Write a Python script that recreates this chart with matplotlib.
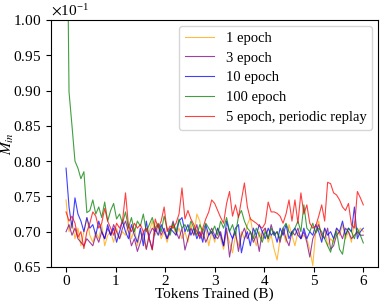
import numpy as np
import matplotlib
matplotlib.use("Agg")
import matplotlib.pyplot as plt
from matplotlib.ticker import ScalarFormatter

plt.rcParams['font.family'] = ['Liberation Serif', 'DejaVu Serif']
plt.rcParams['mathtext.fontset'] = 'stix'

# tokens trained (B), one sample every 0.06B
tokens = np.round(np.arange(101) * 0.06, 2)

# M_in values (axis units x 1e-1)
ep1 = [0.745, 0.700, 0.715, 0.690, 0.705, 0.680, 0.700, 0.720, 0.695, 0.685,
       0.700, 0.690, 0.710, 0.680, 0.695, 0.700, 0.685, 0.705, 0.690, 0.700,
       0.695, 0.710, 0.690, 0.705, 0.680, 0.700, 0.690, 0.675, 0.700, 0.715,
       0.695, 0.705, 0.690, 0.700, 0.685, 0.700, 0.710, 0.695, 0.705, 0.690,
       0.700, 0.685, 0.710, 0.695, 0.725, 0.715, 0.690, 0.705, 0.680, 0.700,
       0.685, 0.705, 0.690, 0.675, 0.700, 0.685, 0.670, 0.695, 0.680, 0.700,
       0.690, 0.710, 0.720, 0.695, 0.680, 0.700, 0.690, 0.705, 0.685, 0.695,
       0.675, 0.660, 0.690, 0.700, 0.685, 0.710, 0.695, 0.680, 0.700, 0.690,
       0.695, 0.690, 0.675, 0.652, 0.700, 0.715, 0.690, 0.705, 0.680, 0.690,
       0.685, 0.705, 0.695, 0.710, 0.690, 0.700, 0.685, 0.715, 0.695, 0.705, 0.700]

ep3 = [0.700, 0.710, 0.695, 0.705, 0.690, 0.685, 0.680, 0.690, 0.685, 0.680,
       0.695, 0.685, 0.700, 0.690, 0.705, 0.695, 0.710, 0.700, 0.690, 0.705,
       0.715, 0.700, 0.680, 0.690, 0.672, 0.685, 0.700, 0.675, 0.695, 0.705,
       0.700, 0.710, 0.695, 0.705, 0.690, 0.700, 0.715, 0.700, 0.690, 0.705,
       0.674, 0.690, 0.705, 0.695, 0.710, 0.690, 0.700, 0.685, 0.695, 0.705,
       0.695, 0.690, 0.700, 0.680, 0.705, 0.664, 0.690, 0.700, 0.672, 0.695,
       0.705, 0.690, 0.700, 0.685, 0.695, 0.672, 0.700, 0.705, 0.690, 0.710,
       0.695, 0.700, 0.685, 0.705, 0.690, 0.680, 0.700, 0.695, 0.705, 0.690,
       0.700, 0.685, 0.664, 0.690, 0.700, 0.710, 0.695, 0.690, 0.705, 0.675,
       0.680, 0.695, 0.700, 0.690, 0.705, 0.700, 0.690, 0.695, 0.700, 0.695, 0.695]

ep10 = [0.790, 0.735, 0.705, 0.748, 0.725, 0.715, 0.700, 0.720, 0.705, 0.710,
        0.695, 0.715, 0.700, 0.690, 0.710, 0.695, 0.705, 0.685, 0.700, 0.715,
        0.700, 0.690, 0.710, 0.695, 0.685, 0.705, 0.680, 0.715, 0.690, 0.675,
        0.705, 0.695, 0.710, 0.700, 0.690, 0.705, 0.700, 0.695, 0.715, 0.720,
        0.700, 0.710, 0.695, 0.705, 0.690, 0.700, 0.685, 0.710, 0.695, 0.700,
        0.690, 0.705, 0.695, 0.680, 0.715, 0.700, 0.690, 0.705, 0.710, 0.670,
        0.690, 0.700, 0.680, 0.705, 0.695, 0.710, 0.700, 0.690, 0.705, 0.695,
        0.700, 0.685, 0.705, 0.695, 0.710, 0.690, 0.700, 0.705, 0.695, 0.690,
        0.705, 0.690, 0.700, 0.695, 0.710, 0.700, 0.685, 0.705, 0.695, 0.700,
        0.690, 0.705, 0.700, 0.715, 0.695, 0.705, 0.700, 0.735, 0.690, 0.700, 0.705]

ep100 = [1.300, 0.898, 0.850, 0.800, 0.790, 0.775, 0.785, 0.727, 0.730, 0.745,
         0.725, 0.735, 0.720, 0.742, 0.715, 0.730, 0.740, 0.718, 0.725, 0.712,
         0.728, 0.705, 0.720, 0.700, 0.715, 0.708, 0.725, 0.700, 0.710, 0.720,
         0.705, 0.712, 0.700, 0.722, 0.705, 0.695, 0.712, 0.700, 0.718, 0.705,
         0.710, 0.700, 0.715, 0.705, 0.695, 0.710, 0.700, 0.712, 0.705, 0.698,
         0.708, 0.695, 0.715, 0.705, 0.720, 0.700, 0.710, 0.695, 0.722, 0.730,
         0.715, 0.705, 0.700, 0.690, 0.705, 0.695, 0.685, 0.700, 0.690, 0.705,
         0.695, 0.700, 0.690, 0.705, 0.712, 0.700, 0.695, 0.705, 0.715, 0.700,
         0.738, 0.705, 0.700, 0.712, 0.698, 0.705, 0.700, 0.690, 0.680, 0.671,
         0.690, 0.700, 0.675, 0.668, 0.695, 0.705, 0.700, 0.690, 0.705, 0.695, 0.684]

ep5_replay = [0.728, 0.715, 0.722, 0.712, 0.692, 0.700, 0.676, 0.700, 0.712, 0.728,
              0.722, 0.705, 0.712, 0.733, 0.715, 0.705, 0.695, 0.712, 0.705, 0.715,
              0.755, 0.708, 0.700, 0.712, 0.705, 0.710, 0.700, 0.705, 0.690, 0.674,
              0.718, 0.705, 0.715, 0.735, 0.700, 0.708, 0.705, 0.712, 0.725, 0.762,
              0.718, 0.730, 0.718, 0.710, 0.700, 0.693, 0.705, 0.718, 0.728, 0.745,
              0.740, 0.730, 0.720, 0.712, 0.740, 0.757, 0.722, 0.738, 0.720, 0.745,
              0.769, 0.735, 0.718, 0.715, 0.712, 0.708, 0.705, 0.712, 0.742, 0.728,
              0.728, 0.726, 0.722, 0.712, 0.725, 0.745, 0.715, 0.745, 0.712, 0.755,
              0.725, 0.738, 0.712, 0.705, 0.708, 0.722, 0.738, 0.715, 0.770, 0.768,
              0.755, 0.752, 0.745, 0.735, 0.730, 0.740, 0.710, 0.705, 0.757, 0.748, 0.738]

series = [
    ("1 epoch", ep1, "orange"),
    ("3 epoch", ep3, "purple"),
    ("10 epoch", ep10, "blue"),
    ("100 epoch", ep100, "green"),
    ("5 epoch, periodic replay", ep5_replay, "red"),
]

fig = plt.figure(figsize=(3.82, 3.02), dpi=100)
ax = fig.add_axes([0.134, 0.116, 0.856, 0.818])

for name, vals, col in series:
    ax.plot(tokens, np.array(vals) * 1e-1, color=col, lw=0.8, alpha=0.75, label=name)

ax.set_ylim(0.065, 0.100)
ax.set_yticks(np.arange(0.065, 0.1001, 0.005))
ax.set_xticks(range(7))
fmt = ScalarFormatter(useMathText=True)
fmt.set_powerlimits((-1, -1))
ax.yaxis.set_major_formatter(fmt)
ax.yaxis.get_offset_text().set_fontsize(11)

ax.tick_params(labelsize=11, length=3.5)
ax.tick_params(axis="x", pad=2)
ax.set_xlabel("Tokens Trained (B)", fontsize=11, labelpad=0)
ax.set_ylabel(r"$M_{in}$", fontsize=11)
ax.yaxis.set_label_coords(-0.108, 0.5)

ax.legend(loc="upper right", fontsize=10.5, handlelength=2.0,
          labelspacing=0.45, borderaxespad=0.4)

fig.savefig("out.png", dpi=100)
